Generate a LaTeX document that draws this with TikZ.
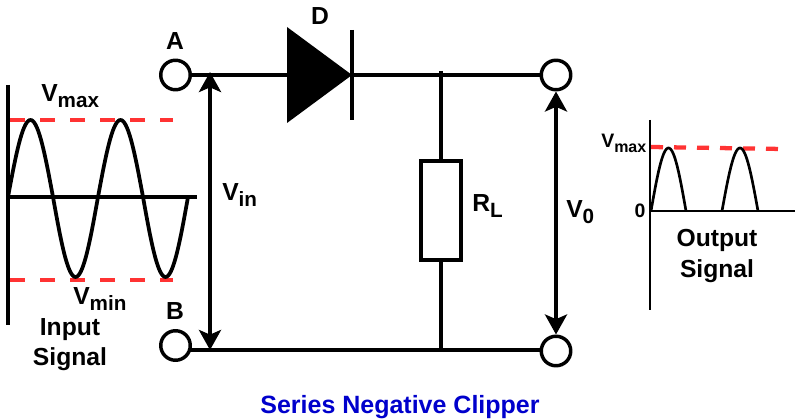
\documentclass[tikz,border=0pt]{standalone}
\usepackage{fontspec}
\setmainfont{Liberation Sans}
\usetikzlibrary{positioning, arrows.meta}

\definecolor{dashred}{RGB}{255,51,51}
\definecolor{titleblue}{RGB}{0,0,204}
\newcommand{\lowtxt}[1]{\raisebox{-4.5pt}{\fontsize{15.5}{16}\selectfont #1}}
\newcommand{\smalllow}[1]{\raisebox{-3.5pt}{\fontsize{12}{12}\selectfont #1}}

\tikzset{
  terminal/.style={circle, draw, line width=2.6pt, minimum size=29.5*0.75pt, inner sep=0pt},
  wire/.style={line width=3pt},
  axisline/.style={line width=2.8pt},
  wave/.style={line width=2.8pt},
  level/.style={dashred, line width=3.7pt, dash pattern=on 11.25pt off 11.25pt},
  levelout/.style={dashred, line width=3.2pt, dash pattern=on 9pt off 8.25pt},
  bothways/.style={line width=3.4pt, {Stealth[length=15pt,width=16.5pt,inset=3.5pt]}-{Stealth[length=15pt,width=16.5pt,inset=3.5pt]}},
  lbl/.style={font=\fontsize{18.5}{20}\selectfont\bfseries, inner sep=0pt},
  lblsmall/.style={font=\fontsize{14.6}{16}\selectfont\bfseries, inner sep=0pt}
}

\begin{document}
\begin{tikzpicture}[x=0.75pt, y=-0.75pt]
  \useasboundingbox (0,0) rectangle (796,420);

  % Nodes
  \node (a) [terminal] at (175.5,75) {};
  \node (b) [terminal] at (175.5,345.5) {};
  \node (outtop) [terminal] at (556,75) {};
  \node (outbot) [terminal] at (556,351) {};
  \node (load) [rectangle, draw, line width=2.6pt, minimum width=40*0.75pt, minimum height=99*0.75pt, inner sep=0pt] at (441,210.5) {};

  \coordinate (anode) at (287,75);
  \coordinate (cathode) at (352,75);
  \coordinate (loadtop) at (441,71);
  \coordinate (loadbot) at (441,350);
  \coordinate (bwire) at (190,350);
  \coordinate (outbotwire) at (541,350);
  \coordinate (inhi) at (210,72);
  \coordinate (inlo) at (210,350);

  % Labels
  \node (la) [lbl, anchor=base] at (175,50) {A};
  \node (lb) [lbl, anchor=base] at (175,320) {B};
  \node (ld) [lbl, anchor=base] at (320,25) {D};
  \node (lvin) [lbl, anchor=base west] at (222,201) {V\lowtxt{in}};
  \node (lrl) [lbl, anchor=base west] at (472,212) {R\lowtxt{L}};
  \node (lvo) [lbl, anchor=base west] at (566,218) {V\lowtxt{0}};
  \node (lvmax) [lbl, anchor=base west] at (41,102) {V\lowtxt{max}};
  \node (lvmin) [lbl, anchor=base west] at (73,305) {V\lowtxt{min}};
  \node (linput) [lbl, anchor=base] at (70,335) {Input};
  \node (lsigi) [lbl, anchor=base] at (70,365) {Signal};
  \node (lvmaxo) [lblsmall, anchor=base west] at (601,148) {V\smalllow{max}};
  \node (lzero) [lblsmall, anchor=base] at (640,218) {0};
  \node (loutput) [lbl, anchor=base] at (717,247) {Output};
  \node (lsigo) [lbl, anchor=base] at (717,277) {Signal};
  \node (title) [anchor=base, text=titleblue, inner sep=0pt, font=\fontsize{18.75}{20}\selectfont\bfseries] at (400,413) {Series Negative Clipper};

  % Diode
  \fill (anode |- 0,27) -- (cathode) -- (anode |- 0,123) -- cycle;
  \draw[line width=3pt] (352,30) -- (352,120);

  % Wires
  \draw[wire] (a) -- (anode);
  \draw[wire] (cathode) -- (outtop);
  \draw[wire] (loadtop) -- (load);
  \draw[wire] (load) -- (loadbot);
  \draw[wire] (bwire) -- (outbotwire);
  \draw[bothways] (inhi) -- (inlo);
  \draw[bothways] (outtop) -- (outbot);

  % Input signal
  \draw[level] (10,120) -- (173,120);
  \draw[level] (10,280) -- (173,280);
  \draw[axisline] (8,85) -- (8,325);
  \draw[axisline] (6,197) -- (197,197);
  \draw[wave] plot[domain=0:720, samples=145, smooth] ({8+\x/4}, {197-(sin(\x)>0?77:80)*sin(\x)});

  % Output signal
  \draw[levelout] (651,147) -- (783,149);
  \draw[axisline, line width=1.9pt] (650,120) -- (650,310);
  \draw[axisline, line width=1.9pt] (650,211) -- (795,211);
  \foreach \st/\wd in {651/35, 722/36}
    \draw[wave, line width=2pt] plot[domain=0:180, samples=37, smooth] ({\st+\x*\wd/180}, {211-63*sin(\x)});
\end{tikzpicture}
\end{document}
